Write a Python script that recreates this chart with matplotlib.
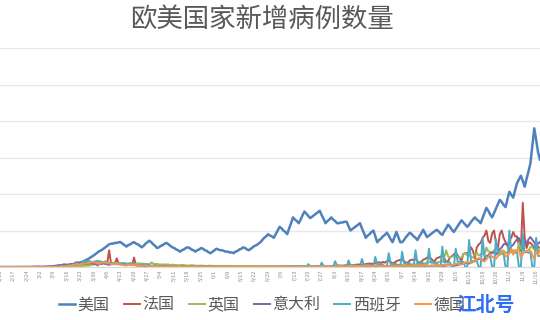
import matplotlib
matplotlib.use('Agg')
import matplotlib.pyplot as plt
import pandas as pd

plt.rcParams['font.family'] = ['Noto Sans CJK SC', 'DejaVu Sans']

# daily new cases (thousands), starting 2020-02-10
start = '2020-02-10'

us = [0, 0, 0, 0, 0, 0, 0, 0, 0, 0,
      0, 0, 0, 0, 0, 0, 0, 0, 0, 0,
      0, 0, 0, 0.1, 0.1, 0.1, 0.2, 0.3, 0.4, 0.5,
      0.7, 1, 1.3, 1.6, 2, 2.3, 2.7, 3, 3.7, 4.3,
      5, 5.7, 6.3, 7, 8.3, 9.7, 11, 12.7, 14.3, 16,
      18, 20, 22, 23, 25, 27, 29, 31, 32, 32,
      33, 33, 34, 34, 32, 30, 28, 30, 31, 33,
      34, 32, 31, 29, 27, 29, 32, 34, 36, 34,
      31, 29, 26, 27, 29, 30, 32, 33, 31, 29,
      27, 26, 24, 23, 21, 23, 24, 26, 27, 26,
      24, 23, 21, 23, 24, 26, 25, 23, 22, 20,
      19, 21, 23, 25, 24, 23, 23, 22, 21, 21,
      20, 20, 19, 21, 22, 24, 25, 27, 26, 24,
      23, 25, 27, 29, 30, 32, 34, 37, 40, 42,
      45, 43, 42, 40, 45, 50, 55, 53, 50, 48,
      45, 53, 60, 68, 65, 63, 60, 65, 71, 76,
      73, 70, 67, 69, 71, 73, 75, 77, 71, 66,
      60, 63, 65, 68, 65, 63, 60, 60, 61, 61,
      62, 62, 56, 50, 52, 54, 56, 58, 60, 53,
      47, 40, 43, 45, 48, 50, 42, 34, 37, 39,
      42, 44, 47, 43, 38, 34, 41, 48, 41, 34,
      34, 37, 41, 44, 47, 45, 42, 40, 37, 42,
      46, 51, 46, 41, 43, 45, 47, 49, 51, 49,
      46, 44, 49, 53, 58, 55, 51, 48, 52, 56,
      60, 64, 61, 58, 55, 58, 62, 65, 68, 65,
      63, 60, 67, 74, 81, 77, 72, 68, 74, 80,
      86, 92, 89, 85, 82, 93, 103, 99, 95, 105,
      115, 120, 125, 118, 110, 121, 131, 142, 166, 190,
      174, 157, 147]

france = [0, 0, 0, 0, 0, 0, 0, 0, 0, 0,
          0, 0, 0, 0, 0, 0, 0, 0, 0, 0,
          0, 0, 0.1, 0.1, 0.1, 0.2, 0.1, 0.2, 0.3, 0.4,
          0.3, 0.5, 0.6, 0.8, 0.9, 0.9, 1.2, 1.1, 1.6, 1.9,
          1.6, 1.8, 3.8, 2.4, 2.9, 3.9, 3.8, 2.4, 4.6, 7.5,
          4.9, 2.1, 5.2, 4.9, 5.5, 7.7, 5.5, 23, 4.3, 4.8,
          4.5, 12, 4, 3.5, 4.8, 2.6, 2.7, 4.2, 3.2, 2.5,
          13, 2, 1.8, 2, 1.6, 1.2, 1.7, 1.4, 1.1, 1.0,
          1.0, 0.9, 0.8, 1.0, 0.7, 0.8, 0.6, 0.5, 0.6, 0.5,
          0.3, 0.5, 0.4, 0.6, 0.5, 0.6, 0.5, 0.4, 0.3, 0.4,
          0.6, 0.5, 0.4, 0.3, 0.3, 0.4, 0.5, 0.5, 0.4, 0.3,
          0.3, 0.4, 0.5, 0.5, 0.4, 0.3, 0.3, 0.4, 0.5, 0.4,
          0.5, 0.4, 0.3, 0.4, 0.5, 0.5, 0.4, 0.4, 0.3, 0.5,
          0.5, 0.5, 0.6, 0.4, 0.3, 0.4, 0.5, 0.6, 0.5, 0.4,
          0.5, 0.6, 0.7, 0.6, 0.5, 0.5, 0.6, 0.7, 0.8, 0.7,
          0.6, 0.7, 0.8, 0.8, 0.9, 0.8, 0.7, 0.8, 0.9, 1.0,
          1.0, 0.9, 0.8, 1.0, 1.1, 1.2, 1.0, 0.9, 1.1, 1.3,
          1.4, 1.4, 1.3, 1.2, 1.5, 1.7, 1.9, 2.0, 1.8, 1.7,
          2.2, 2.5, 2.7, 2.5, 2.4, 2.8, 3.2, 3.5, 3.3, 3.0,
          3.6, 4.0, 4.5, 4.8, 4.2, 4.6, 5.2, 6.0, 6.5, 5.5,
          7, 6, 8, 9, 7, 5, 6, 8, 9, 10,
          10, 8, 6, 6, 9, 10, 10, 11, 8, 6,
          7, 10, 11, 13, 13, 12, 9, 8, 12, 13,
          14, 16, 12, 7, 8, 13, 15, 17, 20, 16,
          12, 9, 18, 19, 19, 20, 27, 22, 12, 27,
          31, 33, 40, 43, 50, 36, 33, 46, 50, 33,
          26, 45, 50, 40, 34, 29, 37, 40, 48, 42,
          42, 30, 22, 88, 40, 26, 34, 33, 30, 26,
          30, 28, 25]

uk = [0, 0, 0, 0, 0, 0, 0, 0, 0, 0,
      0, 0, 0, 0, 0, 0, 0, 0, 0, 0,
      0, 0, 0, 0, 0, 0, 0.1, 0.1, 0.1, 0.1,
      0.1, 0.1, 0.2, 0.3, 0.3, 0.4, 0.4, 0.6, 0.7, 0.8,
      0.9, 1, 1.2, 1.4, 1.5, 1.8, 2, 2.5, 2.9, 3.5,
      3.8, 4.2, 4.4, 3.7, 5.9, 5, 4, 3.6, 5.3, 4.3,
      5.2, 4.6, 4.6, 4.6, 5.5, 4.9, 4.6, 4.3, 5.8, 4.7,
      4.1, 4.6, 5.1, 4.6, 4.8, 4.4, 4.3, 4.0, 3.9, 6.2,
      4.8, 3.9, 4.3, 3.5, 3.4, 3.4, 3.4, 3.6, 3.4, 2.6,
      3.4, 2.6, 2.7, 2.4, 2.4, 2.9, 2.6, 2.4, 2.0, 1.9,
      2.6, 2.2, 2.0, 1.6, 1.9, 1.9, 1.8, 1.6, 1.3, 1.6,
      1.9, 1.4, 1.3, 1.2, 1.2, 1.4, 1.5, 1.5, 1.4, 1.2,
      1.1, 1.0, 1.2, 1.0, 1.1, 1.0, 0.9, 0.8, 0.8, 0.7,
      0.8, 0.9, 0.9, 0.8, 0.7, 0.7, 0.6, 0.8, 0.9, 0.7,
      0.7, 0.8, 0.7, 0.6, 0.6, 0.6, 0.5, 0.6, 0.7, 0.6,
      0.6, 0.6, 0.7, 0.6, 0.7, 0.8, 0.7, 0.6, 0.7, 0.8,
      0.7, 0.6, 0.7, 0.8, 0.8, 0.7, 0.7, 0.6, 0.7, 0.8,
      0.8, 0.9, 0.9, 0.8, 0.7, 0.8, 0.9, 1.0, 0.9, 0.8,
      0.9, 1.1, 1.0, 0.9, 1.1, 1.0, 1.0, 0.9, 1.1, 1.2,
      1.0, 1.1, 1.2, 1.0, 1.2, 1.0, 1.1, 1.2, 1.3, 1.2,
      1.3, 1.1, 1.7, 1.3, 1.3, 1.7, 1.9, 1.9, 2.8, 2.9,
      3.0, 2.5, 2.6, 3.5, 3.1, 3.3, 3.9, 3.4, 4.3, 4.4,
      3.9, 4.4, 4.9, 6.2, 6.6, 6.9, 6.0, 5.7, 4.0, 7.1,
      7.1, 6.9, 12.9, 22.9, 14.5, 12.6, 14.5, 14.2, 17.5, 13.9,
      13.0, 12.9, 17.2, 18.9, 15.6, 16.2, 13.9, 12.8, 17.2, 19.7,
      15.7, 16.9, 18.8, 16.9, 26.7, 21.3, 20.9, 20.0, 23.0, 24.7,
      24.4, 19.8, 23.2, 22.1, 20.0, 18.9, 25.2, 24.1, 21.9, 23.3,
      20.0, 33.5, 25.1, 25.6, 20.6, 21.4, 22.9, 27.3, 26.9, 24.1,
      20, 21, 25]

italy = [0, 0, 0, 0, 0, 0, 0, 0, 0, 0,
         0, 0, 0.02, 0.06, 0.08, 0.07, 0.1, 0.2, 0.2, 0.25,
         0.6, 0.3, 0.3, 0.5, 0.6, 0.8, 0.8, 1.2, 1.5, 1.8,
         2.3, 2.7, 2.5, 3.5, 3.6, 3.2, 3.5, 4.2, 3.5, 5.3,
         6.6, 5.6, 4.8, 5.2, 6.2, 5.2, 6.0, 5.9, 5.0, 4.1,
         4.1, 4.8, 4.7, 4.6, 4.8, 4.3, 3.6, 3.0, 3.8, 4.2,
         4.2, 3.9, 4.7, 4.7, 3.2, 3.2, 2.7, 3.8, 3.8, 3.5,
         2.9, 3.0, 2.7, 2.3, 2.7, 2.7, 2.1, 1.4, 1.2, 1.4,
         1.9, 1.7, 1.4, 1.1, 0.8, 1.0, 1.4, 1.3, 1.0, 0.8,
         0.8, 0.7, 1.1, 0.9, 0.8, 0.9, 0.7, 0.6, 0.5, 0.6,
         0.6, 0.6, 0.7, 0.6, 0.5, 0.5, 0.4, 0.4, 0.6, 0.5,
         0.4, 0.3, 0.3, 0.3, 0.4, 0.3, 0.3, 0.3, 0.3, 0.4,
         0.3, 0.3, 0.3, 0.3, 0.3, 0.2, 0.3, 0.3, 0.2, 0.3,
         0.2, 0.3, 0.3, 0.2, 0.3, 0.2, 0.2, 0.2, 0.2, 0.2,
         0.1, 0.2, 0.2, 0.2, 0.2, 0.2, 0.2, 0.2, 0.2, 0.2,
         0.2, 0.2, 0.2, 0.2, 0.2, 0.3, 0.3, 0.2, 0.3, 0.3,
         0.3, 0.2, 0.3, 0.3, 0.3, 0.4, 0.3, 0.2, 0.2, 0.3,
         0.4, 0.4, 0.4, 0.3, 0.4, 0.2, 0.2, 0.3, 0.4, 0.5,
         0.6, 0.5, 0.5, 0.5, 0.3, 0.4, 0.6, 0.8, 0.9, 1.0,
         0.9, 1.1, 1.0, 1.1, 1.2, 0.9, 1.4, 1.4, 1.3, 1.4,
         1.4, 1.4, 1.5, 1.4, 1.0, 1.3, 1.4, 1.6, 1.7, 1.7,
         1.1, 1.4, 1.4, 1.6, 1.6, 1.5, 1.5, 1.2, 1.5, 1.6,
         1.6, 1.9, 1.8, 1.6, 1.4, 1.8, 1.9, 1.9, 1.9, 1.8,
         1.8, 1.5, 1.6, 1.9, 2.5, 2.5, 2.8, 2.6, 2.3, 2.7,
         3.7, 4.5, 5.4, 5.7, 5.5, 4.6, 5.9, 7.3, 8.8, 10,
         10.9, 11.7, 9.3, 10.9, 15.2, 16.1, 19.1, 19.6, 19.6, 17.0,
         21.3, 24.9, 26.8, 31.1, 31.8, 29.9, 22.3, 28.2, 30.5, 34.5,
         37.8, 39.8, 32.6, 25.3, 35.1, 33.0, 37.9, 41.0, 37.3, 33.9,
         27.4, 32.2, 34.3]

spain = [0, 0, 0, 0, 0, 0, 0, 0, 0, 0,
         0, 0, 0, 0, 0, 0, 0, 0, 0, 0,
         0, 0, 0, 0, 0.05, 0.1, 0.1, 0.1, 0.2, 0.3,
         0.6, 0.8, 0.9, 1.3, 1.6, 2.0, 1.7, 2.5, 3.4, 3.8,
         4.9, 3.6, 4.3, 6.3, 7.5, 7.8, 8.3, 7.9, 6.5, 6.4,
         7.8, 8.2, 7.9, 7.1, 6.9, 5.5, 5.0, 5.5, 6.2, 4.8,
         4.6, 4.2, 3.8, 4.3, 5.1, 5.2, 4.3, 4.4, 4.1, 4.2,
         3.9, 2.9, 2.4, 2.8, 3.5, 3.4, 3.8, 3.0, 2.6, 1.8,
         1.2, 1.3, 1.7, 1.0, 0.9, 0.6, 0.5, 0.5, 0.5, 0.5,
         0.4, 0.5, 0.4, 0.3, 0.3, 0.4, 0.5, 0.4, 0.3, 0.2,
         0.3, 0.4, 0.4, 0.3, 0.3, 0.2, 0.3, 0.3, 0.4, 0.3,
         0.3, 0.3, 0.3, 0.2, 0.3, 0.3, 0.2, 0.2, 0.3, 0.3,
         0.2, 0.3, 0.3, 0.3, 0.2, 0.2, 0.2, 0.3, 0.3, 0.3,
         0.3, 0.3, 0.3, 0.4, 0.3, 0.2, 0.3, 0.3, 0.4, 0.3,
         0.3, 0.4, 0.3, 0.4, 0.5, 0.4, 0.3, 0.6, 0.5, 0.4,
         0.8, 0.9, 0.6, 0.9, 1.0, 0.9, 1.2, 1.3, 1.4, 1.5,
         0, 4, 1.2, 1.3, 1.2, 1.4, 0, 0, 6, 1.5,
         1.5, 1.6, 1.4, 0, 0, 8, 1.8, 1.9, 1.7, 1.8,
         0, 0, 9, 2.5, 2.6, 2.4, 2.5, 0, 0, 11,
         3, 3.2, 2.9, 3.1, 0, 0, 14, 3.5, 3.6, 3.4,
         3.5, 0, 0, 19, 4, 4.2, 3.9, 4.1, 0, 0,
         21, 5, 5.2, 4.8, 5.1, 0, 0, 23, 5, 5.3,
         4.9, 5.1, 0, 0, 25, 6, 6.2, 5.8, 6.1, 0,
         0, 28, 6, 6.3, 5.9, 6.2, 0, 0, 25, 7,
         7.2, 6.8, 7.1, 0, 0, 37, 8, 8.3, 7.8, 8.1,
         0, 0, 40, 14, 14.5, 13.6, 14.2, 0, 0, 38,
         18, 18.5, 17.6, 18.3, 0, 0, 50, 20, 20.6, 19.5,
         20.3, 0, 0, 45, 20, 20.4, 19.6, 20.2, 0, 0,
         40, 15, 15.4]

germany = [0, 0, 0, 0, 0, 0, 0, 0, 0, 0,
           0, 0, 0, 0, 0, 0, 0, 0, 0, 0,
           0.05, 0.07, 0.05, 0.07, 0.09, 0.1, 0.1, 0.2, 0.2, 0.3,
           0.3, 0.3, 0.7, 0.8, 0.9, 1.0, 1.5, 1.7, 2.5, 2.7,
           4.5, 2.7, 3.4, 4.8, 4.2, 5.0, 5.5, 6.3, 6.9, 6.5,
           6.0, 4.8, 4.9, 6.1, 6.2, 6.6, 6.0, 4.9, 4.0, 3.7,
           4.0, 4.9, 4.5, 3.3, 2.8, 2.5, 2.1, 3.0, 3.1, 3.1,
           2.4, 2.6, 2.2, 1.6, 1.5, 1.9, 1.9, 1.3, 1.2, 0.8,
           1.0, 0.8, 0.9, 0.8, 0.6, 0.9, 0.3, 0.7, 1.2, 0.9,
           0.7, 0.5, 0.9, 0.8, 0.9, 0.6, 0.7, 0.6, 0.3, 0.5,
           0.7, 0.6, 0.5, 0.6, 0.4, 0.3, 0.3, 0.4, 0.5, 0.4,
           0.3, 0.3, 0.3, 0.2, 0.3, 0.4, 0.3, 0.3, 0.5, 0.3,
           0.2, 0.4, 0.6, 0.8, 0.7, 0.6, 0.5, 0.4, 0.5, 0.6,
           0.5, 0.6, 0.4, 0.3, 0.5, 0.4, 0.5, 0.5, 0.4, 0.3,
           0.3, 0.5, 0.5, 0.4, 0.4, 0.3, 0.2, 0.4, 0.4, 0.5,
           0.4, 0.3, 0.2, 0.4, 0.6, 0.5, 0.6, 0.5, 0.4, 0.3,
           0.6, 0.8, 0.7, 0.8, 0.8, 0.7, 0.4, 0.6, 0.9, 0.8,
           0.9, 0.9, 1.0, 0.5, 0.4, 0.9, 1.0, 1.0, 1.1, 0.7,
           0.5, 0.8, 1.2, 1.6, 1.4, 1.5, 1.4, 1.1, 1.2, 1.6,
           1.7, 1.5, 1.7, 1.4, 1.0, 1.2, 2.0, 1.5, 1.4, 1.3,
           1.6, 1.5, 0.7, 1.2, 1.3, 1.4, 1.3, 1.0, 1.5, 1.0,
           1.5, 1.7, 1.9, 1.2, 1.4, 2.0, 2.1, 1.9, 1.4, 1.8,
           2.1, 2.3, 2.5, 1.9, 1.3, 1.7, 2.1, 2.2, 2.3, 2.2,
           1.5, 2.8, 2.9, 2.7, 3.0, 2.2, 2.6, 3.5, 4.1, 4.9,
           3.6, 3.4, 4.8, 6.3, 7.3, 6.6, 5.6, 6.9, 7.8, 11.2,
           12.0, 11.5, 8.5, 7.5, 10.5, 13.9, 17.2, 14.3, 12.4, 11.2,
           15.0, 16.6, 19.5, 21.6, 14.2, 15.6, 18.7, 24.9, 16.8, 22.5,
           20.9, 23.0, 13.1, 17.7, 21.2, 21.6, 22.9, 22.4, 16.9, 10.8,
           21, 17, 23]

names = ['美国', '法国', '英国', '意大利', '西班牙', '德国']
colors = ['#4F81BD', '#C0504D', '#9BBB59', '#8064A2', '#4BACC6', '#F79646']
series = [us, france, uk, italy, spain, germany]

days = pd.date_range(start, periods=len(us), freq='D')

fig = plt.figure(figsize=(5.4, 3.2), dpi=100)
ax = fig.add_axes([0, 0.1656, 1, 0.6844])

for vals, name, c in zip(series, names, colors):
    lw = 1.8 if name == '美国' else 1.4
    ax.plot(days[:len(vals)], vals, color=c, lw=lw, label=name)

ax.set_ylim(0, 300)
ax.set_yticks(range(0, 301, 50))
ax.yaxis.grid(True, color='#e8e8e8', lw=1)
ax.set_axisbelow(True)
ax.set_xlim(days[0], days[-1])

ticks = days[::7]
ax.set_xticks(ticks)
ax.set_xticklabels([f'{d.month}/{d.day}' for d in ticks], rotation=90,
                   fontsize=4, color='#8c8c8c')
ax.tick_params(length=0, pad=2)
ax.tick_params(axis='y', labelleft=False)
for s in ['top', 'right', 'left']:
    ax.spines[s].set_visible(False)
ax.spines['bottom'].set_color('#d9d9d9')

fig.text(0.485, 0.94, '欧美国家新增病例数量', ha='center', va='center',
         fontsize=19, color='#595959')

fig.legend(loc='center', bbox_to_anchor=(0.486, 0.047), ncol=6, frameon=False,
           fontsize=11.5, handlelength=1.0, handletextpad=0.15,
           columnspacing=0.9, labelcolor='#595959')

fig.text(0.9, 0.047, '江北号', ha='center', va='center', fontsize=14,
         fontweight='bold', color='#2e6ff2', zorder=10)

fig.savefig('out.png', dpi=100)
